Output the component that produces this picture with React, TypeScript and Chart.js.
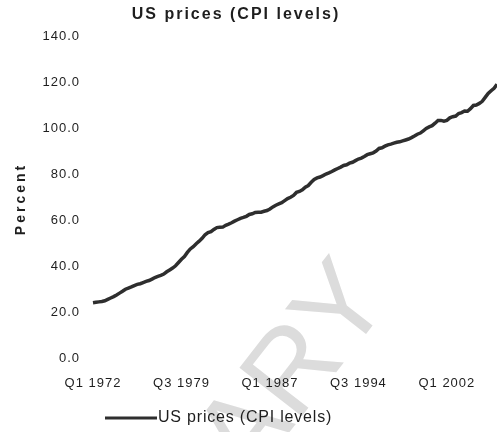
import { useEffect, useRef } from "react";
import { Chart, registerables } from "chart.js";

Chart.register(...registerables);

const START_YEAR = 1972;

// Quarterly US CPI levels (index, 2000 = 100), Q1 1972 .. Q2 2006
const CPI_LEVELS = [
  24.0, 24.2, 24.4, 24.6,
  24.9, 25.5, 26.1, 26.7,
  27.4, 28.2, 29.0, 29.9,
  30.4, 30.9, 31.5, 32.0,
  32.3, 32.8, 33.3, 33.7,
  34.3, 35.0, 35.5, 35.9,
  36.5, 37.5, 38.3, 39.1,
  40.1, 41.5, 42.9, 44.1,
  45.9, 47.4, 48.4, 49.7,
  50.8, 52.0, 53.6, 54.5,
  54.9, 55.9, 56.7, 56.8,
  56.9, 57.7, 58.2, 58.8,
  59.5, 60.1, 60.7, 61.1,
  61.6, 62.4, 62.7, 63.3,
  63.4, 63.4, 63.8, 64.1,
  64.8, 65.7, 66.4, 67.0,
  67.5, 68.4, 69.3, 69.9,
  70.7, 72.0, 72.4, 73.1,
  74.3, 75.0, 76.4, 77.6,
  78.3, 78.7, 79.3, 80.0,
  80.5, 81.1, 81.8, 82.4,
  83.0, 83.7, 84.0, 84.7,
  85.1, 85.8, 86.5, 86.9,
  87.6, 88.4, 88.8, 89.2,
  90.0, 91.1, 91.4, 92.1,
  92.7, 93.0, 93.4, 93.8,
  94.0, 94.4, 94.8, 95.2,
  95.8, 96.5, 97.3, 97.8,
  98.8, 99.8, 100.5, 101.0,
  102.1, 103.3, 103.3, 103.0,
  103.3, 104.4, 104.9, 105.2,
  106.3, 106.7, 107.4, 107.3,
  108.4, 109.8, 110.0, 110.7,
  111.6, 113.3, 115.0, 116.2,
  117.3, 119.0,
];

const X_TICK_LABELS = ["Q1 1972", "Q3 1979", "Q1 1987", "Q3 1994", "Q1 2002"];
const Y_MIN = 0;
const Y_MAX = 140;
const Y_STEP = 20;

const TITLE = "US prices (CPI levels)";
const SERIES_NAME = "US prices (CPI levels)";
const Y_TITLE = "Percent";
const WATERMARK = "PRELIMINARY";

const QUARTERS = CPI_LEVELS.map(
  (_, i) => `Q${(i % 4) + 1} ${START_YEAR + Math.floor(i / 4)}`
);

const FONT = '"Liberation Sans", Arial, sans-serif';
const LINE_COLOR = "#2e2e2e";
const TEXT_COLOR = "#1e1e1e";

const decorPlugin = {
  id: "decor",
  beforeDraw(chart: any) {
    const ctx = chart.ctx as CanvasRenderingContext2D;
    ctx.save();
    ctx.fillStyle = "#ffffff";
    ctx.fillRect(0, 0, chart.width, chart.height);
    // watermark
    ctx.translate(368, 280);
    ctx.rotate((-52 * Math.PI) / 180);
    ctx.font = `115px ${FONT}`;
    ctx.fillStyle = "#dcdcdc";
    ctx.textAlign = "right";
    ctx.textBaseline = "middle";
    ctx.fillText(WATERMARK, 0, 0);
    ctx.restore();
    (ctx as any).letterSpacing = "1px";
  },
  afterDraw(chart: any) {
    const ctx = chart.ctx as CanvasRenderingContext2D;
    // title
    ctx.save();
    (ctx as any).letterSpacing = "2px";
    ctx.font = `bold 16px ${FONT}`;
    ctx.fillStyle = TEXT_COLOR;
    ctx.textAlign = "center";
    ctx.textBaseline = "middle";
    ctx.fillText(TITLE, 236, 15);
    ctx.restore();

    // y axis title
    ctx.save();
    (ctx as any).letterSpacing = "3px";
    ctx.font = `bold 14px ${FONT}`;
    ctx.fillStyle = TEXT_COLOR;
    ctx.translate(21, 199);
    ctx.rotate(-Math.PI / 2);
    ctx.textAlign = "center";
    ctx.textBaseline = "middle";
    ctx.fillText(Y_TITLE, 0, 0);
    ctx.restore();

    // legend
    ctx.save();
    ctx.strokeStyle = LINE_COLOR;
    ctx.lineWidth = 3;
    ctx.beginPath();
    ctx.moveTo(105, 418);
    ctx.lineTo(157, 418);
    ctx.stroke();
    (ctx as any).letterSpacing = "0.8px";
    ctx.font = `16px ${FONT}`;
    ctx.fillStyle = TEXT_COLOR;
    ctx.textAlign = "left";
    ctx.textBaseline = "middle";
    ctx.fillText(SERIES_NAME, 158, 418);
    ctx.restore();
  },
};

export default function App() {
  const canvasRef = useRef<HTMLCanvasElement | null>(null);

  useEffect(() => {
    const canvas = canvasRef.current;
    if (!canvas) return;
    const chart = new Chart(canvas, {
      type: "line",
      data: {
        labels: QUARTERS,
        datasets: [
          {
            label: SERIES_NAME,
            data: CPI_LEVELS,
            borderColor: LINE_COLOR,
            backgroundColor: LINE_COLOR,
            borderWidth: 3.5,
            pointRadius: 0,
            tension: 0,
            fill: false,
          },
        ],
      },
      options: {
        animation: false,
        responsive: false,
        devicePixelRatio: 1,
        layout: { padding: { left: 8, top: 36, right: 0, bottom: 30 } },
        plugins: {
          legend: { display: false },
          title: { display: false },
          tooltip: { enabled: false },
        },
        scales: {
          x: {
            type: "category",
            offset: false,
            grid: { display: false, drawTicks: false },
            border: { display: false },
            ticks: {
              autoSkip: false,
              maxRotation: 0,
              minRotation: 0,
              padding: 18,
              color: TEXT_COLOR,
              font: { family: FONT, size: 13 },
              callback: (_v: any, index: number) => {
                const l = QUARTERS[index];
                return X_TICK_LABELS.includes(l) ? l : null;
              },
            },
            afterFit: (s: any) => {
              s.height = 44;
            },
          },
          y: {
            min: Y_MIN,
            max: Y_MAX,
            grid: { display: false, drawTicks: false },
            border: { display: false },
            ticks: {
              stepSize: Y_STEP,
              padding: 13,
              color: TEXT_COLOR,
              font: { family: FONT, size: 13 },
              callback: (v: any) => Number(v).toFixed(1),
            },
            afterFit: (s: any) => {
              s.width = 85;
            },
          },
        },
      },
      plugins: [decorPlugin],
    });
    return () => chart.destroy();
  }, []);

  return (
    <div style={{ position: "fixed", left: 0, top: 0, width: 497, height: 432, background: "#fff" }}>
      <canvas ref={canvasRef} width={497} height={432} style={{ display: "block" }} />
    </div>
  );
}
